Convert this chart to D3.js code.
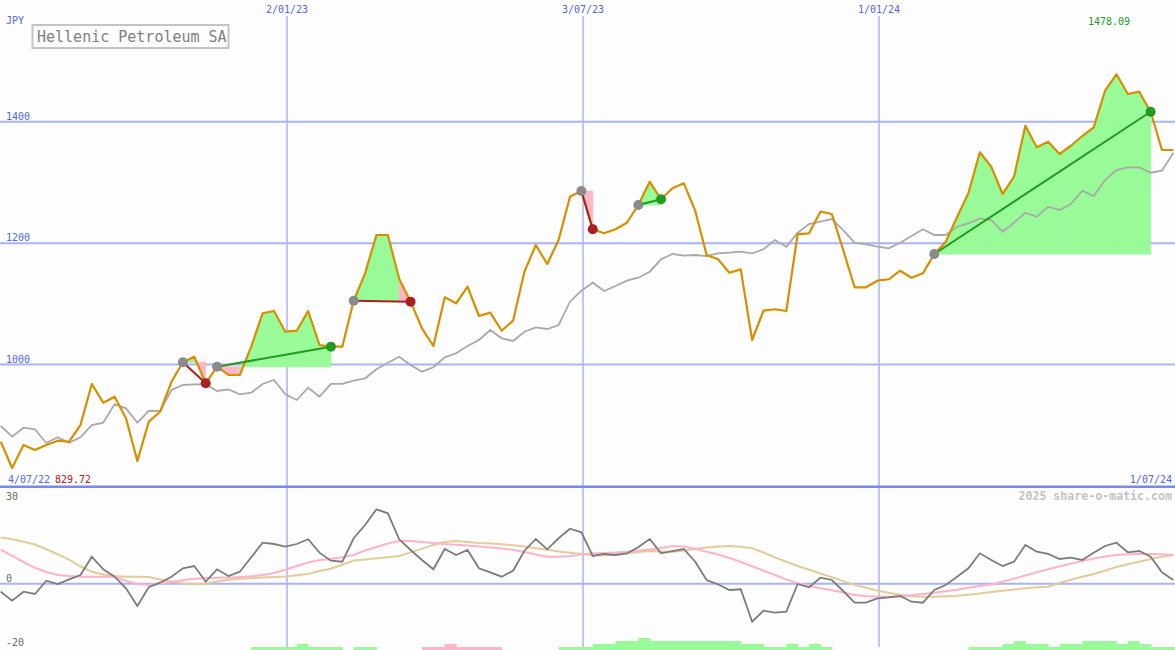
<!DOCTYPE html>
<html><head><meta charset="utf-8">
<script src="https://cdn.jsdelivr.net/npm/d3@7"></script>
<style>html,body{margin:0;padding:0;background:#fcfdfc;}svg{display:block;}</style>
</head><body>
<svg id="chart" width="1175" height="650"></svg>
<script>
// ---------- data ----------
const firstWeek = "2022-07-10";   // weekly points (Sundays)
const lastWeek  = "2024-06-30";
const title = "Hellenic Petroleum SA";
const currency = "JPY";
const priceTicks = [1000, 1200, 1400];
const lowerTicks = [30, 0, -20];
const dateTicks = [["2023-01-02","2/01/23"],["2023-07-03","3/07/23"],["2024-01-01","1/01/24"]];
const startLabel = "4/07/22", endLabel = "1/07/24";
const minLabel = "829.72", maxLabel = "1478.09";
const credit = "2025 share-o-matic.com";

const price = [873.0, 829.72, 867.6, 859.4, 867.6, 874.7, 873.0, 900.5, 968.1, 937.3,
 947.1, 911.6, 841.3, 906.0, 922.4, 971.8, 1003.8, 1013.0, 969.2, 996.5,
 982.9, 982.9, 1029.5, 1084.5, 1088.3, 1054.2, 1055.8, 1088.3, 1032.3, 1029.5,
 1029.5, 1105.2, 1150.3, 1213.4, 1213.4, 1141.0, 1103.6, 1059.8, 1030.6, 1110.8,
 1100.9, 1128.3, 1080.0, 1085.5, 1055.8, 1072.3, 1153.0, 1196.9, 1165.6, 1205.2,
 1276.5, 1285.8, 1222.8, 1216.2, 1222.8, 1233.7, 1262.8, 1301.2, 1272.2, 1290.3,
 1298.5, 1253.4, 1180.5, 1173.4, 1151.3, 1156.9, 1040.5, 1088.8, 1091.1, 1088.3,
 1215.0, 1216.2, 1251.8, 1248.0, 1188.7, 1127.3, 1127.3, 1138.2, 1140.5, 1154.6,
 1143.1, 1150.3, 1182.1, 1201.9, 1243.0, 1282.6, 1349.6, 1325.9, 1280.9, 1309.4,
 1393.4, 1357.8, 1367.0, 1346.8, 1360.4, 1376.4, 1390.7, 1451.0, 1478.09, 1445.6,
 1449.4, 1416.4, 1353.4, 1353.4];

const movingAvg = [898.9, 881.3, 896.1, 893.5, 870.9, 880.3, 871.4, 880.3, 900.5, 904.3,
 935.1, 928.0, 904.3, 923.6, 923.6, 958.2, 966.4, 967.6, 967.6, 956.5,
 959.3, 951.1, 953.7, 968.1, 974.6, 951.1, 941.7, 962.0, 947.1, 968.1,
 968.1, 973.5, 977.4, 992.3, 1003.1, 1013.0, 999.3, 988.3, 995.6, 1012.0,
 1018.6, 1030.6, 1040.5, 1057.0, 1043.3, 1038.9, 1054.2, 1061.4, 1058.6, 1065.2,
 1103.6, 1121.7, 1134.9, 1121.2, 1129.4, 1138.2, 1143.1, 1153.0, 1173.4, 1182.1,
 1179.3, 1180.5, 1178.8, 1183.3, 1184.3, 1185.9, 1183.3, 1189.9, 1205.2, 1194.1,
 1217.2, 1231.5, 1235.3, 1239.7, 1221.6, 1200.7, 1198.1, 1194.1, 1191.5, 1200.7,
 1211.8, 1222.8, 1213.4, 1213.4, 1227.1, 1232.7, 1240.9, 1238.1, 1218.8, 1233.7,
 1250.1, 1243.5, 1260.0, 1254.6, 1264.4, 1286.3, 1277.6, 1304.0, 1320.4, 1324.9,
 1324.9, 1316.0, 1319.3, 1348.9];

// trades: [entry index, exit index]
const trades = [[16,18],[19,29],[31,36],[51,52],[56,58],[82,101]];

const momentum = [-2.48, -5.26, -2.48, -3.19, 0.93, -0.09, 1.36, 2.69, 8.36, 4.46,
 2.17, -1.42, -6.90, -1.11, 0.31, 2.17, 4.77, 5.48, 0.62, 4.46,
 2.38, 3.72, 8.17, 12.69, 12.29, 11.46, 12.29, 13.75, 9.60, 7.12,
 6.81, 14.06, 18.17, 23.03, 21.80, 13.75, 10.43, 7.34, 4.46, 10.74,
 8.89, 10.43, 4.77, 3.53, 2.17, 4.02, 10.22, 13.84, 10.65, 14.06,
 17.03, 15.91, 8.58, 9.20, 8.89, 9.41, 11.27, 13.84, 9.41, 10.12,
 10.74, 6.81, 1.15, -0.19, -1.95, -1.73, -11.76, -8.36, -8.98, -8.67,
 -0.09, -1.11, 1.86, 1.15, -2.26, -5.88, -5.88, -4.52, -4.21, -3.81,
 -5.57, -5.88, -1.95, -0.40, 2.17, 4.77, 9.41, 7.34, 5.48, 6.81,
 11.98, 9.91, 9.20, 7.65, 8.05, 7.34, 9.60, 11.67, 12.69, 9.72,
 10.12, 8.36, 3.53, 1.15];

const signalFast = [10.53, 8.58, 6.72, 4.92, 3.62, 2.69, 2.38, 2.17, 2.17, 2.17,
 2.07, 0.84, -0.09, -0.40, 0.06, 0.53, 1.15, 1.55, 1.76, 1.86,
 1.95, 2.07, 2.32, 2.69, 3.31, 4.33, 5.48, 6.56, 7.34, 7.65,
 8.20, 8.89, 10.28, 11.36, 12.45, 13.22, 13.22, 12.91, 12.60, 12.29,
 12.04, 11.83, 11.52, 11.21, 10.90, 10.43, 9.81, 9.04, 8.36, 8.36,
 8.51, 9.04, 9.44, 9.50, 9.63, 9.91, 10.19, 10.59, 11.05, 11.64,
 11.52, 10.80, 9.91, 9.04, 7.96, 6.72, 5.39, 4.06, 2.69, 1.33,
 0.12, -0.71, -1.39, -2.01, -2.72, -3.50, -3.81, -4.02, -4.02, -3.90,
 -3.59, -3.19, -2.82, -2.35, -1.86, -1.27, -0.71, -0.25, 0.59, 1.58,
 2.54, 3.56, 4.49, 5.42, 6.22, 7.03, 7.77, 8.39, 8.89, 9.10,
 9.20, 9.20, 9.10, 8.89];

const signalSlow = [14.33, 13.75, 13.00, 12.14, 10.68, 9.13, 7.49, 5.29, 3.72, 2.85,
 2.38, 2.17, 2.17, 2.07, 1.33, 0.68, 0.09, -0.09, 0.09, 0.65,
 1.21, 1.55, 1.73, 1.89, 2.04, 2.23, 2.60, 3.00, 3.93, 4.61,
 5.85, 7.15, 7.49, 7.86, 8.20, 8.58, 9.69, 10.87, 12.01, 12.91,
 13.22, 12.88, 12.60, 12.45, 12.23, 11.89, 11.55, 10.99, 10.50, 10.00,
 9.57, 9.16, 8.79, 8.70, 9.07, 9.44, 9.85, 10.09, 10.00, 9.91,
 10.31, 10.74, 11.18, 11.52, 11.64, 11.42, 10.99, 9.66, 8.17, 6.81,
 5.48, 4.33, 3.16, 1.98, 0.80, -0.37, -1.24, -2.14, -2.82, -3.41,
 -3.87, -4.02, -4.02, -3.90, -3.75, -3.41, -3.03, -2.60, -2.20, -1.76,
 -1.42, -1.11, -0.93, 0.22, 1.24, 2.17, 3.00, 3.99, 5.17, 6.01,
 6.81, 7.65, 8.36, 8.92];

const strength = [0,0,0,0,0,0,0,0,0,0,
 0,0,0,0,0,0,0,0,0,0,
 0,0,1,1,1,1,2,1,1,1,
 0,1,1,0,0,0,0,-1,-1,-2,
 -1,-1,-1,-1,0,0,0,0,0,1,
 1,1,2,2,3,3,4,3,3,3,
 3,3,3,3,3,2,2,1,1,2,
 1,2,1,0,0,0,0,0,0,0,
 0,0,0,0,0,1,1,1,2,3,
 2,2,1,2,2,3,3,3,2,3,
 2,1,1,1];

// ---------- layout ----------
const W = 1175, H = 650;
const FONT = "DejaVu Sans Mono, monospace";
const BLUE = "#5466e6", GRID = "#a9b5f3", SEP = "#7a88ee";
const GREEN_FILL = "#98fb98", PINK_FILL = "#ffb6c6";
const pd = s => new Date(s + "T00:00:00Z");
const dates = d3.utcSunday.range(pd(firstWeek), d3.utcDay.offset(pd(lastWeek), 1));
const n = Math.min(dates.length, price.length);

const x = d3.scaleUtc().domain([pd("2022-07-04"), pd("2024-07-01")]).range([-9, 1175]);
const y = d3.scaleLinear().domain([1000, 1400]).range([364.6, 121.7]);
const yl = d3.scaleLinear().domain([-20, 30]).range([648.3, 486.8]);
const yb = d3.scaleLinear().domain([0, 4]).range([650, 638]);

const svg = d3.select("#chart");
svg.append("rect").attr("width", W).attr("height", H).attr("fill", "#fcfdfc");

const clip = svg.append("defs").append("clipPath").attr("id", "clipAll");
clip.append("rect").attr("x", 0).attr("y", 0).attr("width", W).attr("height", H);

// grid
const grid = svg.append("g");
dateTicks.forEach(([d]) => {
  grid.append("line").attr("x1", x(pd(d))).attr("x2", x(pd(d)))
    .attr("y1", 16).attr("y2", 647).attr("stroke", GRID).attr("stroke-width", 1.5);
});
priceTicks.forEach(v => {
  grid.append("line").attr("x1", 0).attr("x2", W).attr("y1", y(v)).attr("y2", y(v))
    .attr("stroke", GRID).attr("stroke-width", 2);
});
grid.append("line").attr("x1", 0).attr("x2", W).attr("y1", yl(0)).attr("y2", yl(0))
  .attr("stroke", GRID).attr("stroke-width", 2);
grid.append("line").attr("x1", 0).attr("x2", W).attr("y1", yl(30)).attr("y2", yl(30))
  .attr("stroke", SEP).attr("stroke-width", 2.5);

const plot = svg.append("g").attr("clip-path", "url(#clipAll)");

// trade shading (per segment, colour by segment end vs entry)
trades.forEach(([s, e]) => {
  const yE = y(price[s]);
  for (let i = s; i < e; i++) {
    const pts = [[x(dates[i]), yE], [x(dates[i]), y(price[i])],
                 [x(dates[i+1]), y(price[i+1])], [x(dates[i+1]), yE]];
    const col = price[i+1] >= price[s] ? GREEN_FILL : PINK_FILL;
    plot.append("path").attr("d", "M" + pts.map(p => p.join(",")).join("L") + "Z")
      .attr("fill", col).attr("stroke", col).attr("stroke-width", 0.8)
      .attr("stroke-linejoin", "miter");
  }
});

// lines
const idx = d3.range(n);
const line = (arr, ys) => d3.line().x(i => x(dates[i])).y(i => ys(arr[i]))(idx);
plot.append("path").attr("d", line(movingAvg, y)).attr("fill", "none")
  .attr("stroke", "#a9a9a9").attr("stroke-width", 1.8);
plot.append("path").attr("d", line(price, y)).attr("fill", "none")
  .attr("stroke", "#d78f00").attr("stroke-width", 2.2).attr("stroke-linejoin", "round");

// trade markers
trades.forEach(([s, e]) => {
  const win = price[e] >= price[s];
  const col = win ? "#229a22" : "#a82020";
  plot.append("line").attr("x1", x(dates[s])).attr("y1", y(price[s]))
    .attr("x2", x(dates[e])).attr("y2", y(price[e]))
    .attr("stroke", col).attr("stroke-width", 2);
  plot.append("circle").attr("cx", x(dates[s])).attr("cy", y(price[s])).attr("r", 5)
    .attr("fill", "#8a8a8a");
  plot.append("circle").attr("cx", x(dates[e])).attr("cy", y(price[e])).attr("r", 5)
    .attr("fill", col);
});

// lower panel
plot.append("path").attr("d", line(signalSlow, yl)).attr("fill", "none")
  .attr("stroke", "#e3cb9a").attr("stroke-width", 2);
plot.append("path").attr("d", line(signalFast, yl)).attr("fill", "none")
  .attr("stroke", "#ffb3c8").attr("stroke-width", 2);
plot.append("path").attr("d", line(momentum, yl)).attr("fill", "none")
  .attr("stroke", "#7c7c7c").attr("stroke-width", 1.8);

idx.forEach(i => {
  const v = strength[i];
  if (!v) return;
  const x0 = x(dates[i]), x1 = x(d3.utcWeek.offset(dates[i], 1));
  plot.append("rect").attr("x", x0).attr("width", x1 - x0 + 0.5)
    .attr("y", yb(Math.abs(v))).attr("height", yb(0) - yb(Math.abs(v)))
    .attr("fill", v > 0 ? GREEN_FILL : PINK_FILL);
});

// text
const txt = (t, xx, yy, col, anchor, size, weight) =>
  svg.append("text").text(t).attr("x", xx).attr("y", yy).attr("fill", col)
    .attr("font-family", FONT).attr("font-size", size || 10)
    .attr("font-weight", weight || "normal").attr("text-anchor", anchor || "start");

dateTicks.forEach(([d, lab]) => txt(lab, x(pd(d)), 13, BLUE, "middle"));
txt(currency, 6, 24, BLUE);
priceTicks.forEach(v => txt(String(v), 6, y(v) - 2, BLUE));
txt(lowerTicks[0], 6, 500, "#6a6a6a");
txt(lowerTicks[1], 6, yl(0) - 2, "#6a6a6a");
txt(lowerTicks[2], 6, yl(-20) - 2, "#6a6a6a");
txt(startLabel, 8, 482.5, BLUE);
txt(minLabel, 55, 482.5, "#a82020");
txt(endLabel, 1172, 482.5, BLUE, "end");
txt(maxLabel, 1109, 25, "#229a22", "middle");
txt(credit, 1172, 500, "#c4c4c4", "end", 11.6, "bold");

svg.append("rect").attr("x", 32.5).attr("y", 25).attr("width", 196).attr("height", 23)
  .attr("fill", "#fcfdfc").attr("stroke", "#c4c4c4").attr("stroke-width", 2);
txt(title, 37, 41.5, "#808080", "start", 15);
</script>
</body></html>
